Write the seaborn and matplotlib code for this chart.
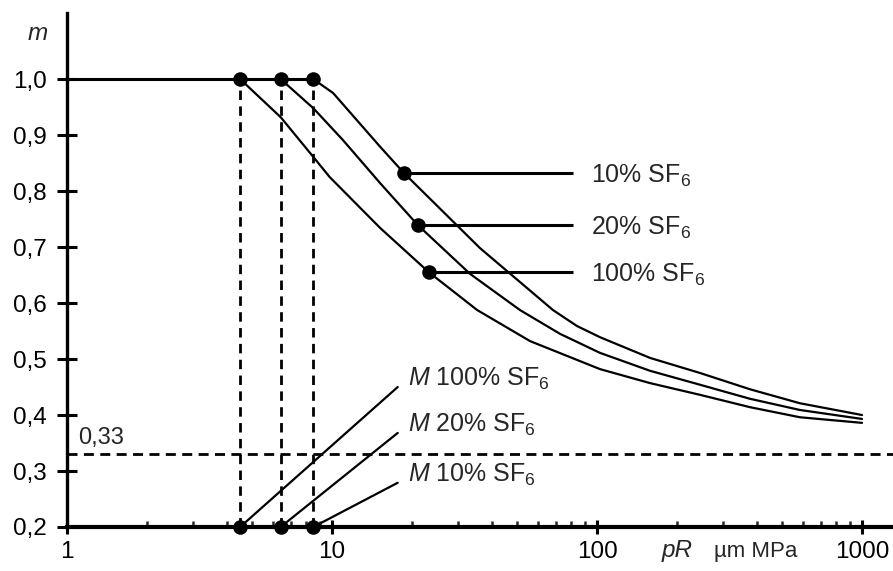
import matplotlib
matplotlib.use("Agg")
import matplotlib.pyplot as plt
import matplotlib.ticker as mticker
import numpy as np
import pandas as pd
import seaborn as sns

# Degree of utilisation m versus pR (µm MPa) for three SF6 fractions
pr_10 = [8.5, 10.1, 15.2, 18.7, 36.2, 68.2, 84.0, 102.6, 158.5, 245, 377.8, 583, 1000]
m_10 = [1.0, 0.975, 0.879, 0.832, 0.698, 0.5875, 0.559, 0.539, 0.502, 0.475, 0.446, 0.421, 0.400]
pr_20 = [6.4, 8.5, 11.0, 15.2, 21.1, 33.2, 51.2, 72.5, 102.6, 158.5, 245, 377.8, 583, 1000]
m_20 = [1.0, 0.948, 0.891, 0.814, 0.739, 0.652, 0.5875, 0.545, 0.511, 0.479, 0.454, 0.429, 0.409, 0.393]
pr_100 = [4.5, 6.4, 8.5, 9.8, 15.2, 23.2, 35.3, 55.9, 102.6, 158.5, 245, 377.8, 583, 1000]
m_100 = [1.0, 0.932, 0.861, 0.825, 0.734, 0.655, 0.5875, 0.532, 0.482, 0.457, 0.436, 0.414, 0.396, 0.386]

series_names = ["10% SF$_6$", "20% SF$_6$", "100% SF$_6$"]
# critical pR values M (start of the decline) for 10 %, 20 %, 100 % SF6
m_critical = [8.5, 6.4, 4.5]
# points on each curve where the name is attached
label_pr = [18.7, 21.1, 23.2]
label_m = [0.832, 0.739, 0.655]
# end points of the M leader lines (10 %, 20 %, 100 %)
m_leader_m = [0.279, 0.368, 0.45]
m_leader_pr = 17.7
m_limit = 0.33

y_ticks = [0.2, 0.3, 0.4, 0.5, 0.6, 0.7, 0.8, 0.9, 1.0]
x_ticks = [1, 10, 100, 1000]

sns.set_theme(style="ticks")
plt.rcParams["font.family"] = ["Liberation Sans", "DejaVu Sans"]
plt.rcParams["mathtext.fontset"] = "custom"
plt.rcParams["mathtext.rm"] = "Liberation Sans"
plt.rcParams["mathtext.it"] = "Liberation Sans:italic"
plt.rcParams["mathtext.bf"] = "Liberation Sans:bold"
NARROW = ["Liberation Sans Narrow", "Liberation Sans"]

FS_TICK = 17.5
FS_NOTE = 18
fig = plt.figure(figsize=(8.93, 5.71), dpi=100)
ax = fig.add_axes([67 / 893, 44 / 571, 826 / 893, 514 / 571])
ax.set_xscale("log")

curves = pd.concat([
    pd.DataFrame({"pR": pr_10, "m": m_10, "gas": "10"}),
    pd.DataFrame({"pR": pr_20, "m": m_20, "gas": "20"}),
    pd.DataFrame({"pR": pr_100, "m": m_100, "gas": "100"}),
])
sns.lineplot(data=curves, x="pR", y="m", hue="gas", units="gas", estimator=None,
             sort=False, palette=["black"] * 3, linewidth=1.6, legend=False, ax=ax)

# plateau m = 1
ax.plot([1, max(m_critical)], [1.0, 1.0], color="black", lw=2.2, solid_capstyle="butt")

# dashed guides
ax.vlines(m_critical, 0.2, 1.0, colors="black", linestyles=(0, (3.4, 2.3)), lw=2.0)
ax.axhline(m_limit, color="black", ls=(0, (3.6, 2.3)), lw=2.0)
ax.text(1.10, m_limit + 0.01, "0,33", fontsize=17, family=NARROW, ha="left", va="bottom")

# markers at the critical points
dots = pd.DataFrame({
    "pR": m_critical + m_critical + label_pr,
    "m": [1.0] * 3 + [0.2] * 3 + label_m,
})
sns.scatterplot(data=dots, x="pR", y="m", color="black", s=110, edgecolor="black",
                linewidth=0, zorder=5, clip_on=False, ax=ax)

# curve names
for pr, mv, name in zip(label_pr, label_m, series_names):
    ax.plot([pr, 81.2], [mv, mv], color="black", lw=2.2, solid_capstyle="butt")
    ax.text(95, mv, name, fontsize=FS_NOTE, ha="left", va="center_baseline")

# M leader lines
for pr, mv, name in zip(m_critical, m_leader_m, series_names):
    ax.plot([pr, m_leader_pr], [0.2, mv], color="black", lw=1.6, clip_on=False)
    ax.text(19.4, mv + 0.02, "$M$ " + name, fontsize=FS_NOTE, ha="left", va="center_baseline")

ax.set_xlim(1, 1309)
ax.set_ylim(0.2, 1.118)
ax.set_xlabel("")
ax.set_ylabel("")

ax.xaxis.set_major_locator(mticker.FixedLocator(x_ticks))
ax.xaxis.set_major_formatter(mticker.FixedFormatter([str(v) for v in x_ticks]))
ax.xaxis.set_minor_locator(mticker.LogLocator(base=10, subs=np.arange(2, 10)))
ax.xaxis.set_minor_formatter(mticker.NullFormatter())
ax.set_yticks(y_ticks)
ax.set_yticklabels([f"{v:.1f}".replace(".", ",") for v in y_ticks])

ax.tick_params(axis="x", which="major", direction="inout", length=10, width=2.2,
               pad=5, labelsize=FS_TICK, colors="black")
ax.tick_params(axis="x", which="minor", direction="in", length=4, width=1.8)
ax.tick_params(axis="y", which="major", direction="inout", length=15, width=2.2,
               pad=7, labelsize=FS_TICK, colors="black")

for side in ("top", "right"):
    ax.spines[side].set_visible(False)
ax.spines["left"].set_linewidth(2.4)
ax.spines["bottom"].set_linewidth(3.0)
ax.spines["left"].set_color("black")
ax.spines["bottom"].set_color("black")

fig.text(38 / 893, 1 - 34 / 571, "m", fontsize=FS_TICK, fontstyle="italic", ha="center", va="center")
fig.text(677 / 893, 1 - 551 / 571, "pR", fontsize=FS_TICK, fontstyle="italic", ha="center", va="center")
fig.text(714 / 893, 1 - 551 / 571, "µm MPa", fontsize=16, family=NARROW, ha="left", va="center")

fig.savefig("out.png", dpi=100)
